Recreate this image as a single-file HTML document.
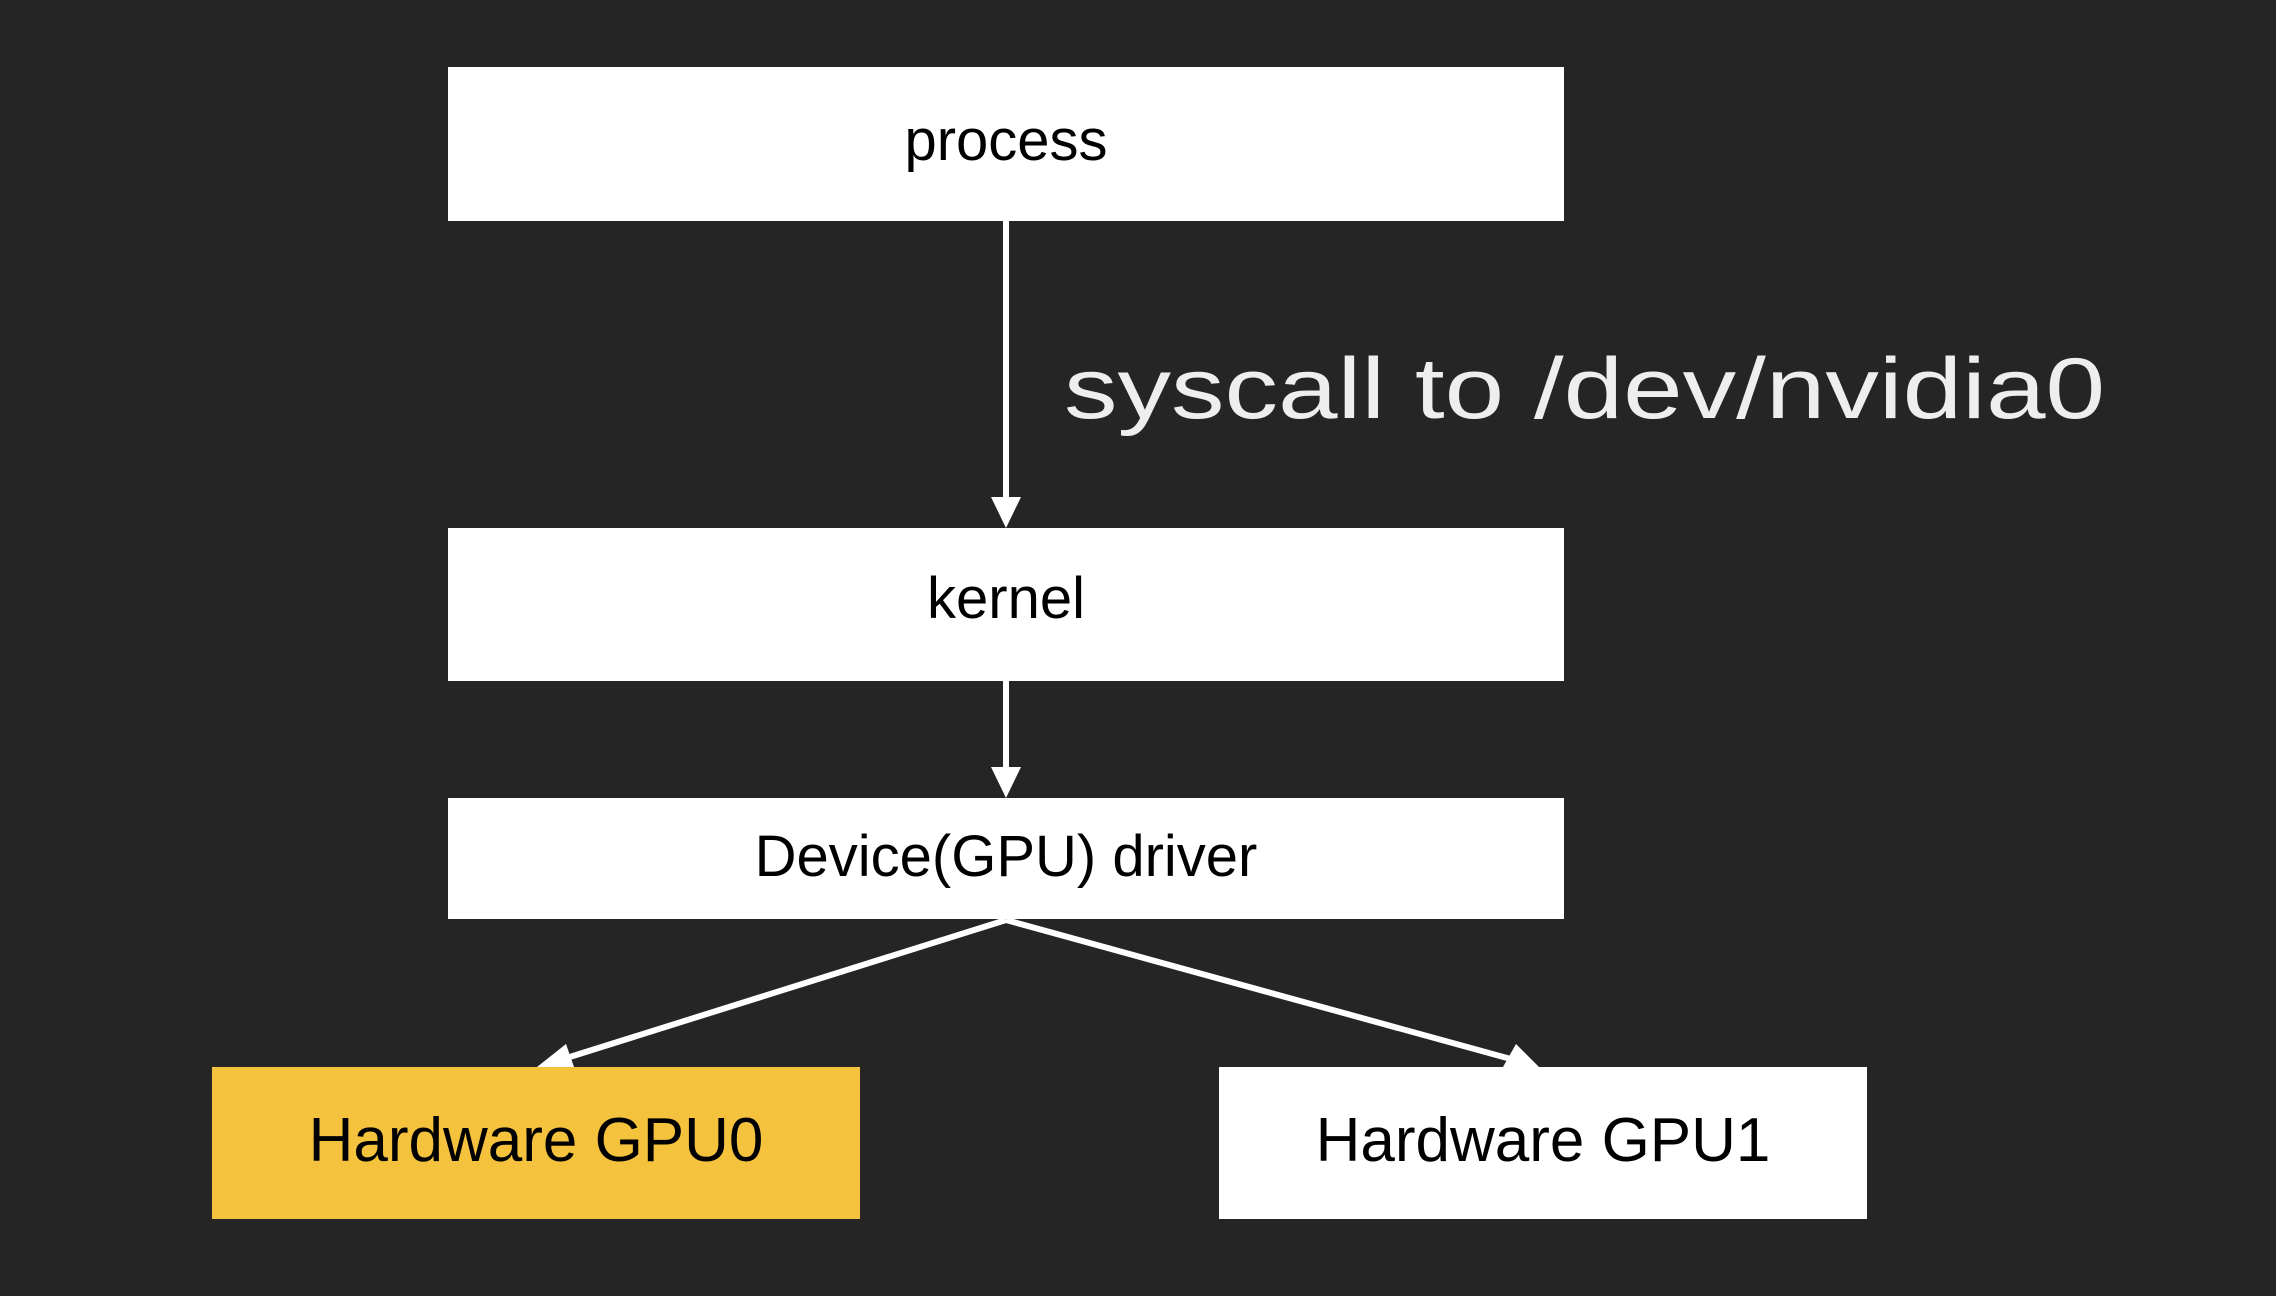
<!DOCTYPE html>
<html><head><meta charset="utf-8"><style>
html,body{margin:0;padding:0;background:#252525;}
svg{display:block}
text{font-family:"Liberation Sans",sans-serif;}
</style></head><body>
<svg width="2276" height="1296" viewBox="0 0 2276 1296" xmlns="http://www.w3.org/2000/svg">
<defs>
<marker id="ah" markerWidth="10" markerHeight="10" refX="9" refY="5" orient="auto" markerUnits="userSpaceOnUse" viewBox="0 0 10 10">
</marker>
</defs>
<rect width="2276" height="1296" fill="#252525"/>
<rect x="448" y="67" width="1116" height="154" fill="#fff"/>
<rect x="448" y="528" width="1116" height="153" fill="#fff"/>
<rect x="448" y="798" width="1116" height="121" fill="#fff"/>
<rect x="212" y="1067" width="648" height="152" fill="#F4C23C"/>
<rect x="1219" y="1067" width="648" height="152" fill="#fff"/>
<g stroke="#fff" stroke-width="6" fill="none">
<line x1="1006" y1="221" x2="1006" y2="505"/>
<line x1="1006" y1="681" x2="1006" y2="776"/>
<line x1="1006" y1="920" x2="557" y2="1061"/>
<line x1="1006" y1="920" x2="1518" y2="1061"/>
</g>
<g fill="#fff">
<polygon points="991,497 1021,497 1006,528"/>
<polygon points="991,767 1021,767 1006,798"/>
<polygon points="537,1067 566,1044 574,1067"/>
<polygon points="1539,1067 1503,1067 1516,1044"/>
</g>
<g fill="#000" font-size="58" text-anchor="middle">
<text x="1006" y="160">process</text>
<text x="1006" y="618">kernel</text>
<text x="1006" y="876">Device(GPU) driver</text>
<text x="536" y="1161" font-size="62">Hardware GPU0</text>
<text x="1543" y="1161" font-size="62">Hardware GPU1</text>
</g>
<text x="1064" y="418" font-size="86" fill="#eee" textLength="1041" lengthAdjust="spacingAndGlyphs">syscall to /dev/nvidia0</text>
</svg>
</body></html>
